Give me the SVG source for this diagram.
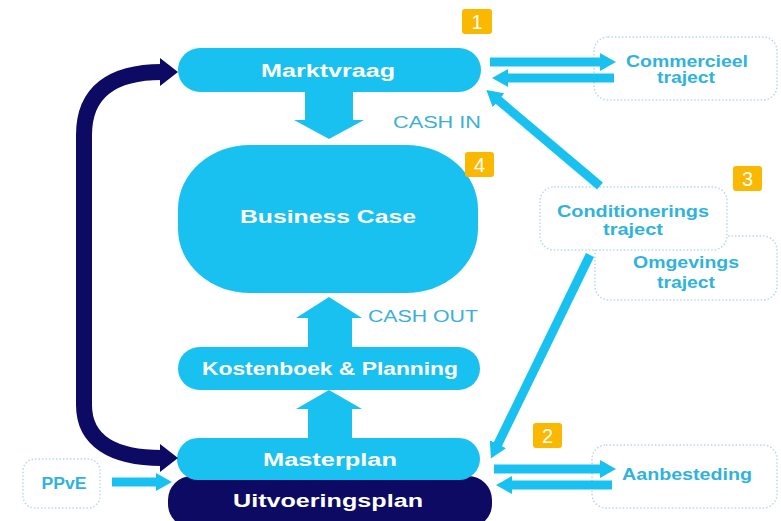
<svg xmlns="http://www.w3.org/2000/svg" width="781" height="521" viewBox="0 0 781 521">
<defs>
<style>
.lb{fill:#19c1f1}
.nv{fill:#0c0a63}
.main{font-family:"Liberation Sans",Arial,sans-serif;font-weight:bold;font-size:18px;fill:#ffffff;text-anchor:middle}
.side{font-family:"Liberation Sans",Arial,sans-serif;font-size:16px;fill:#2fb3dc;text-anchor:middle;font-weight:bold}
.cash{font-family:"Liberation Sans",Arial,sans-serif;font-size:16px;fill:#3ab0d6;text-anchor:start}
.box{fill:#ffffff;stroke:#b9d9e6;stroke-width:1.5;stroke-dasharray:1.5 2}
.badge{fill:#fbb800}
.bt{font-family:"Liberation Sans",Arial,sans-serif;font-size:20px;fill:#ffffff;text-anchor:middle}
.conn{stroke:#19c1f1;stroke-width:9;fill:none}
.loop{stroke:#0c0a63;stroke-width:16;fill:none}
</style>
<marker id="ah" markerWidth="16" markerHeight="18" refX="2" refY="9" orient="auto" markerUnits="userSpaceOnUse">
<path d="M0,0 L16,9 L0,18 Z" fill="#19c1f1"/>
</marker>
</defs>

<g id="marktvraag">
<rect class="lb" x="178" y="48" width="303" height="44" rx="22"/>
<text class="main" x="328" y="77" textLength="134" lengthAdjust="spacingAndGlyphs">Marktvraag</text>
</g>
<g id="business-case">
<rect class="lb" x="178" y="145" width="300" height="148" rx="72" ry="64"/>
<text class="main" x="328" y="223" textLength="176" lengthAdjust="spacingAndGlyphs">Business Case</text>
</g>
<g id="kostenboek">
<rect class="lb" x="178" y="347" width="302" height="43" rx="21.5"/>
<text class="main" x="330" y="375" textLength="256" lengthAdjust="spacingAndGlyphs">Kostenboek &amp; Planning</text>
</g>
<g id="uitvoeringsplan">
<rect class="nv" x="168" y="476" width="324" height="52" rx="24"/>
<text class="main" x="328" y="507" textLength="190" lengthAdjust="spacingAndGlyphs">Uitvoeringsplan</text>
</g>
<g id="masterplan">
<rect class="lb" x="177" y="438" width="303" height="42" rx="21"/>
<text class="main" x="330" y="466" textLength="134" lengthAdjust="spacingAndGlyphs">Masterplan</text>
</g>

<g id="cash-in"><text class="cash" x="393" y="128" textLength="88" lengthAdjust="spacingAndGlyphs">CASH IN</text></g>
<g id="cash-out"><text class="cash" x="368" y="322" textLength="110" lengthAdjust="spacingAndGlyphs">CASH OUT</text></g>

<g id="commercieel">
<rect class="box" x="594" y="37" width="183" height="63" rx="14"/>
<text class="side" x="687" y="67" textLength="122" lengthAdjust="spacingAndGlyphs">Commercieel</text>
<text class="side" x="686" y="83" textLength="58" lengthAdjust="spacingAndGlyphs">traject</text>
</g>
<g id="omgevings">
<rect class="box" x="595" y="236" width="182" height="64" rx="14"/>
<text class="side" x="686" y="268" textLength="106" lengthAdjust="spacingAndGlyphs">Omgevings</text>
<text class="side" x="686" y="288" textLength="58" lengthAdjust="spacingAndGlyphs">traject</text>
</g>
<g id="conditionerings">
<rect class="box" x="540" y="187" width="187" height="63" rx="14"/>
<text class="side" x="633" y="217" textLength="152" lengthAdjust="spacingAndGlyphs">Conditionerings</text>
<text class="side" x="633" y="235" textLength="60" lengthAdjust="spacingAndGlyphs">traject</text>
</g>
<g id="aanbesteding">
<rect class="box" x="592" y="445" width="185" height="63" rx="14"/>
<text class="side" x="687" y="480" textLength="130" lengthAdjust="spacingAndGlyphs">Aanbesteding</text>
</g>
<g id="ppve">
<rect class="box" x="23" y="459" width="77" height="49" rx="12"/>
<text class="side" x="64" y="489" textLength="45" lengthAdjust="spacingAndGlyphs">PPvE</text>
</g>

<g id="connectors">
<!-- dark loop -->
<path class="loop" d="M162 72 C112 72 84 92 84 135 L84 405 C84 440 112 458 162 458"/>
<polygon class="nv" points="160,58 178,72 160,86"/>
<polygon class="nv" points="160,444 178,458 160,472"/>
<!-- Marktvraag -> Business Case -->
<polygon class="lb" points="305,92 353,92 353,120 364,120 329,139 294,120 305,120"/>
<!-- Kostenboek -> Business Case -->
<polygon class="lb" points="308,347 352,347 352,318 362,318 329,297 296,318 308,318"/>
<!-- Masterplan -> Kostenboek -->
<polygon class="lb" points="308,438 352,438 352,409 362,409 329,390 296,409 308,409"/>
<!-- Commercieel arrows -->
<line class="conn" x1="490" y1="62" x2="602" y2="62" marker-end="url(#ah)"/>
<line class="conn" x1="614" y1="78" x2="506" y2="78" marker-end="url(#ah)"/>
<!-- Conditionerings -> Marktvraag -->
<line class="conn" x1="600" y1="186" x2="497" y2="99" marker-end="url(#ah)"/>
<!-- Omgevings -> Masterplan -->
<line class="conn" x1="590" y1="255" x2="497" y2="446" marker-end="url(#ah)"/>
<!-- Aanbesteding arrows -->
<line class="conn" x1="494" y1="469" x2="602" y2="469" marker-end="url(#ah)"/>
<line class="conn" x1="612" y1="485" x2="510" y2="485" marker-end="url(#ah)"/>
<!-- PPvE -> Masterplan -->
<line class="conn" x1="112" y1="482" x2="158" y2="482" marker-end="url(#ah)"/>
</g>

<g id="badge-1"><rect class="badge" x="462" y="9" width="30" height="25" rx="3"/><text class="bt" x="477" y="29">1</text></g>
<g id="badge-4"><rect class="badge" x="465" y="152" width="29" height="25" rx="3"/><text class="bt" x="479.5" y="172">4</text></g>
<g id="badge-3"><rect class="badge" x="733" y="166" width="29" height="25" rx="3"/><text class="bt" x="747.5" y="186">3</text></g>
<g id="badge-2"><rect class="badge" x="533" y="423" width="29" height="25" rx="3"/><text class="bt" x="547.5" y="443">2</text></g>
</svg>
